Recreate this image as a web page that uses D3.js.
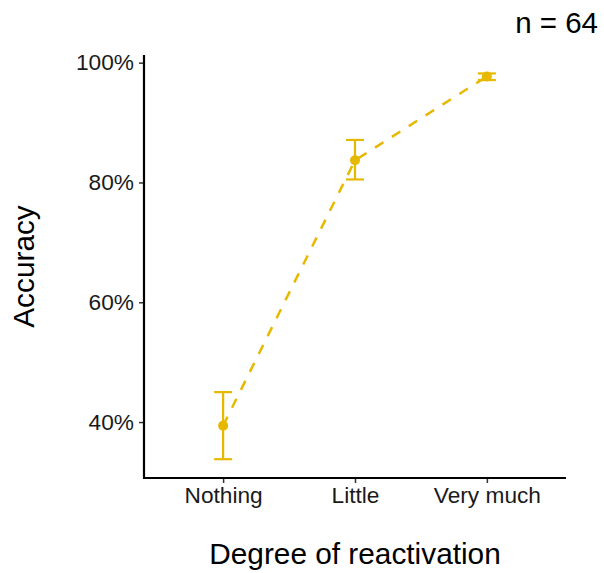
<!DOCTYPE html>
<html>
<head>
<meta charset="utf-8">
<script src="https://cdn.jsdelivr.net/npm/d3@7"></script>
<style>
  body { margin: 0; background: #fff; }
  svg text { font-family: "Liberation Sans", Arial, sans-serif; }
</style>
</head>
<body>
<svg id="chart" width="604" height="573"></svg>
<script>
// data
var categories = ["Nothing", "Little", "Very much"]
var accuracy = [0.394, 0.837, 0.977]
var errLow = [0.338, 0.805, 0.971]
var errHigh = [0.450, 0.871, 0.982]
var yTicks = [0.4, 0.6, 0.8, 1.0]
var sampleLabel = "n = 64"

var color = "#E7B800"
var svg = d3.select("#chart")

var panelL = 144, panelR = 566, panelT = 55, panelB = 478

var x = d3.scalePoint().domain(categories).range([panelL, panelR]).padding(0.6)
var y = d3.scaleLinear().domain([0.3066, 1.0128]).range([panelB, panelT])

var points = categories.map(function(c, i) {
  return { cat: c, val: accuracy[i], lo: errLow[i], hi: errHigh[i] }
})

// axes
var yAxis = svg.append("g")
  .attr("transform", "translate(" + panelL + ",0)")
  .call(d3.axisLeft(y).tickValues(yTicks).tickFormat(d3.format(".0%")).tickSize(5).tickPadding(5))
var xAxis = svg.append("g")
  .attr("transform", "translate(0," + panelB + ")")
  .call(d3.axisBottom(x).tickSize(5).tickPadding(4))

;[xAxis, yAxis].forEach(function(a) {
  a.select(".domain").remove()
  a.selectAll(".tick line").attr("stroke", "#333").attr("stroke-width", 1.5)
  a.selectAll(".tick text").attr("fill", "#1a1a1a").style("font-size", "22.7px")
})

// axis lines
svg.append("path")
  .attr("d", "M" + panelL + "," + panelT + "V" + panelB + "H" + panelR)
  .attr("fill", "none")
  .attr("stroke", "#000")
  .attr("stroke-width", 2.2)

// dashed line
var line = d3.line()
  .x(function(d) { return x(d.cat) })
  .y(function(d) { return y(d.val) })

svg.append("path")
  .datum(points)
  .attr("d", line)
  .attr("fill", "none")
  .attr("stroke", color)
  .attr("stroke-width", 2.5)
  .attr("stroke-dasharray", "10,10")

// error bars
var eb = svg.selectAll(".errbar").data(points).enter().append("g").attr("class", "errbar")
  .attr("stroke", color).attr("stroke-width", 2.2)
eb.append("line")
  .attr("x1", function(d) { return x(d.cat) }).attr("x2", function(d) { return x(d.cat) })
  .attr("y1", function(d) { return y(d.lo) }).attr("y2", function(d) { return y(d.hi) })
eb.append("line")
  .attr("x1", function(d) { return x(d.cat) - 9 }).attr("x2", function(d) { return x(d.cat) + 9 })
  .attr("y1", function(d) { return y(d.lo) }).attr("y2", function(d) { return y(d.lo) })
eb.append("line")
  .attr("x1", function(d) { return x(d.cat) - 9 }).attr("x2", function(d) { return x(d.cat) + 9 })
  .attr("y1", function(d) { return y(d.hi) }).attr("y2", function(d) { return y(d.hi) })

// points
svg.selectAll(".pt").data(points).enter().append("circle")
  .attr("class", "pt")
  .attr("cx", function(d) { return x(d.cat) })
  .attr("cy", function(d) { return y(d.val) })
  .attr("r", 5)
  .attr("fill", color)

// titles
svg.append("text")
  .attr("x", (panelL + panelR) / 2).attr("y", 564)
  .attr("text-anchor", "middle")
  .style("font-size", "29.8px")
  .text("Degree of reactivation")

svg.append("text")
  .attr("transform", "translate(34," + ((panelT + panelB) / 2) + ") rotate(-90)")
  .attr("text-anchor", "middle")
  .style("font-size", "29.8px")
  .text("Accuracy")

svg.append("text")
  .attr("x", 598).attr("y", 33)
  .attr("text-anchor", "end")
  .style("font-size", "29.5px")
  .text(sampleLabel)
</script>
</body>
</html>
